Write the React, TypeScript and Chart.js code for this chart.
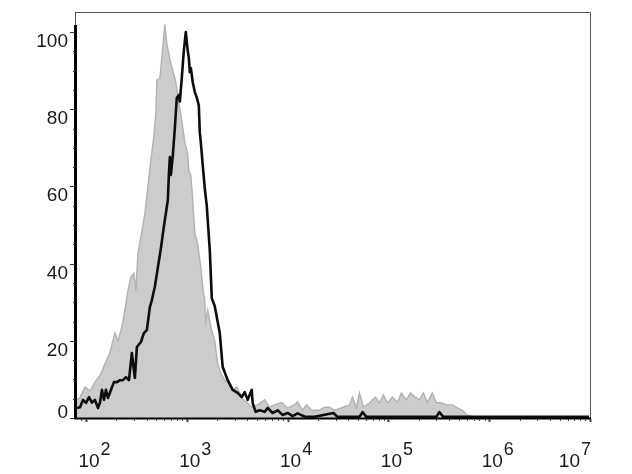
import React, { useEffect, useRef } from "react";
import { Chart, registerables } from "chart.js";

Chart.register(...registerables);

// Fluorescence channel positions are given in decades (log10 of intensity)
const grayDecades = [
  1.911, 1.941, 1.99, 2.04, 2.089, 2.139, 2.188, 2.238, 2.257, 2.287, 2.317, 2.356, 2.386, 2.416,
  2.446, 2.475, 2.495, 2.515, 2.545, 2.584, 2.614, 2.644, 2.673, 2.693, 2.703, 2.733, 2.762, 2.782,
  2.802, 2.832, 2.861, 2.891, 2.921, 2.95, 2.98, 3.0, 3.01, 3.02, 3.04, 3.059, 3.079, 3.109, 3.139,
  3.158, 3.178, 3.188, 3.208, 3.238, 3.277, 3.307, 3.337, 3.376, 3.416, 3.455, 3.495, 3.525, 3.564,
  3.604, 3.644, 3.703, 3.772, 3.822, 3.871, 3.941, 4.0, 4.069, 4.099, 4.149, 4.188, 4.238, 4.317,
  4.366, 4.416, 4.465, 4.535, 4.614, 4.644, 4.683, 4.713, 4.752, 4.812, 4.871, 4.911, 4.95, 4.99,
  5.04, 5.089, 5.129, 5.178, 5.218, 5.267, 5.307, 5.347, 5.386, 5.436, 5.475, 5.525, 5.584, 5.634,
  5.683, 5.733, 5.782, 5.851, 6.0, 6.99,
];
const grayCounts = [
  4.7, 5.4, 8, 7, 9.3, 11, 14, 17, 19, 22, 20, 23.6, 28, 33,
  36.6, 37.5, 33, 42.7, 47, 53, 60, 67, 73, 79, 87.6, 88, 96, 102,
  97, 93, 90, 87, 82, 77, 71.5, 69.5, 68, 64, 63, 56.5, 48, 45, 39,
  34, 30.5, 25, 28, 23.6, 20, 14, 11.6, 9.8, 9, 7.3, 8, 6.5, 4.7,
  3.9, 2.8, 3.4, 4.7, 2.8, 3.4, 4, 2.6, 3.4, 4.1, 2, 3.4, 2, 2,
  2.8, 2.8, 2, 2.6, 3.4, 5.4, 2.6, 6.5, 2.8, 3.9, 5.4, 3.9, 6, 3.9,
  5.4, 4, 6.5, 4.7, 6.5, 5.4, 4.7, 6.5, 4, 6.5, 4, 3.9, 3.4, 3.4,
  2.6, 2, 0.8, 0.3, 0, 0,
];

const blackDecades = [
  1.911, 1.941, 1.97, 2.0, 2.03, 2.059, 2.089, 2.119, 2.139, 2.158, 2.178, 2.198, 2.218, 2.248,
  2.277, 2.307, 2.337, 2.366, 2.396, 2.426, 2.455, 2.475, 2.485, 2.505, 2.545, 2.574, 2.604, 2.634,
  2.653, 2.683, 2.713, 2.743, 2.772, 2.792, 2.812, 2.822, 2.832, 2.842, 2.861, 2.881, 2.901, 2.921,
  2.931, 2.95, 2.97, 2.99, 3.01, 3.02, 3.03, 3.04, 3.059, 3.079, 3.099, 3.119, 3.129, 3.139, 3.158,
  3.178, 3.198, 3.228, 3.248, 3.277, 3.327, 3.356, 3.406, 3.455, 3.505, 3.545, 3.574, 3.604, 3.644,
  3.653, 3.683, 3.723, 3.772, 3.802, 3.851, 3.901, 3.95, 4.0, 4.05, 4.099, 4.168, 4.267, 4.455,
  4.495, 4.713, 4.743, 4.782, 5.475, 5.505, 5.545, 6.99,
];
const blackCounts = [
  2.6, 2.8, 4.7, 3.9, 5.4, 4, 4.7, 2.6, 4, 7.3, 4.7, 7.3, 5.2, 7.3,
  9.3, 9.3, 9.8, 9.8, 10.6, 9.8, 16.8, 12.4, 10.4, 18.4, 19.7, 22, 22.8, 28.8,
  30.5, 34, 39, 44, 49.5, 53, 56.5, 63, 67.6, 63, 68, 75, 83, 83.7,
  82, 88, 95, 100, 95, 93.3, 89.6, 90.7, 87, 84.5, 83, 81, 74, 71.5, 65.5,
  59.6, 55, 43.5, 31, 29, 22, 13.2, 9.8, 7.3, 6.5, 5.4, 6.7, 4.7, 7.3,
  3.9, 1.6, 2, 1.6, 2.6, 1.3, 2, 0.8, 1.3, 0.5, 1.2, 0.4, 0.3, 1.3,
  0.3, 0.3, 1.5, 0.3, 0.3, 1.5, 0.3, 0.3,
];

const xExponents = [2, 3, 4, 5, 6, 7];
const yTickValues = [0, 20, 40, 60, 80, 100];

const FONT = '"Liberation Sans", Arial, sans-serif';

const axesPlugin = {
  id: "flowAxes",
  afterDatasetsDraw(chart: any) {
    const ctx = chart.ctx as CanvasRenderingContext2D;
    const xs = chart.scales.x;
    const ys = chart.scales.y;
    const area = chart.chartArea;
    ctx.save();

    // frame top & right
    ctx.strokeStyle = "#555";
    ctx.lineWidth = 1;
    ctx.beginPath();
    ctx.moveTo(area.left - 1, area.top + 0.5);
    ctx.lineTo(area.right + 0.5, area.top + 0.5);
    ctx.lineTo(area.right + 0.5, area.bottom);
    ctx.stroke();
    ctx.beginPath();
    ctx.moveTo(area.left - 1.5, area.top);
    ctx.lineTo(area.left - 1.5, area.top + 14);
    ctx.stroke();

    // left axis (thick)
    ctx.strokeStyle = "#000";
    ctx.lineWidth = 3;
    ctx.beginPath();
    ctx.moveTo(area.left - 1.5, area.top + 13);
    ctx.lineTo(area.left - 1.5, area.bottom + 1);
    ctx.stroke();

    // bottom axis
    ctx.lineWidth = 2;
    ctx.beginPath();
    ctx.moveTo(area.left - 3, area.bottom + 0.5);
    ctx.lineTo(area.right + 1, area.bottom + 0.5);
    ctx.stroke();

    // y ticks
    ctx.strokeStyle = "#333";
    ctx.lineWidth = 1;
    for (let v = 0; v <= 100; v += 5) {
      const y = Math.round(ys.getPixelForValue(v)) + 0.5;
      const major = v % 20 === 0;
      ctx.beginPath();
      ctx.moveTo(area.left - (major ? 7 : 4), y);
      ctx.lineTo(area.left - 2, y);
      ctx.stroke();
    }

    // x ticks
    ctx.strokeStyle = "#444";
    for (let e = 1; e <= 7; e++) {
      for (let m = 1; m <= 9; m++) {
        const val = m * Math.pow(10, e);
        if (val < xs.min || val > xs.max * 1.0001) continue;
        const x = Math.round(xs.getPixelForValue(val)) + 0.5;
        const major = m === 1;
        ctx.lineWidth = major ? 2 : 1;
        ctx.beginPath();
        ctx.moveTo(x, area.bottom + 1);
        ctx.lineTo(x, area.bottom + (major ? 4 : 3));
        ctx.stroke();
      }
    }

    // y labels
    ctx.fillStyle = "#1a1a1a";
    ctx.font = `19px ${FONT}`;
    ctx.textAlign = "right";
    ctx.textBaseline = "alphabetic";
    yTickValues.forEach((v) => {
      const y = ys.getPixelForValue(v);
      const base = v === 0 ? y : y + 15;
      ctx.fillText(String(v), area.left - 9, base);
    });

    // x labels 10^n
    ctx.textAlign = "left";
    xExponents.forEach((e) => {
      const x = xs.getPixelForValue(Math.pow(10, e));
      ctx.font = `19px ${FONT}`;
      const wBase = ctx.measureText("10").width;
      ctx.font = `18px ${FONT}`;
      const wExp = ctx.measureText(String(e)).width;
      let left = x + 3 - wBase / 2;
      if (left + wBase + wExp > area.right + 1) left = area.right + 1 - wBase - wExp - 1;
      ctx.font = `19px ${FONT}`;
      ctx.fillText("10", left, 467);
      ctx.font = `18px ${FONT}`;
      ctx.fillText(String(e), left + wBase + 1, 455);
    });

    ctx.restore();
  },
};

export default function App() {
  const canvasRef = useRef<HTMLCanvasElement | null>(null);

  useEffect(() => {
    if (!canvasRef.current) return;
    const grayData = grayDecades.map((d, i) => ({ x: Math.pow(10, d), y: grayCounts[i] }));
    const blackData = blackDecades.map((d, i) => ({ x: Math.pow(10, d), y: blackCounts[i] }));
    const chart = new Chart(canvasRef.current, {
      type: "line",
      data: {
        datasets: [
          {
            label: "Sample",
            data: blackData,
            borderColor: "#0d0d0d",
            borderWidth: 2.6,
            pointRadius: 0,
            tension: 0,
            fill: false,
            order: 0,
            borderJoinStyle: "round",
          },
          {
            label: "Control",
            data: grayData,
            borderColor: "#b2b2b2",
            backgroundColor: "#cccccc",
            borderWidth: 1.4,
            pointRadius: 0,
            tension: 0,
            fill: "origin",
            order: 1,
          },
        ],
      },
      options: {
        responsive: false,
        animation: false,
        devicePixelRatio: 1,
        layout: { padding: { left: 77, top: 12, right: 42, bottom: 56 } },
        plugins: { legend: { display: false }, tooltip: { enabled: false } },
        scales: {
          x: { type: "logarithmic", min: Math.pow(10, 1.9107), max: 1e7, display: false },
          y: { type: "linear", min: 0, max: 105.2, display: false },
        },
      },
      plugins: [axesPlugin],
    });
    return () => chart.destroy();
  }, []);

  return (
    <div style={{ position: "fixed", left: 0, top: 0, width: 632, height: 474, background: "#fff" }}>
      <canvas ref={canvasRef} width={632} height={474} />
    </div>
  );
}
